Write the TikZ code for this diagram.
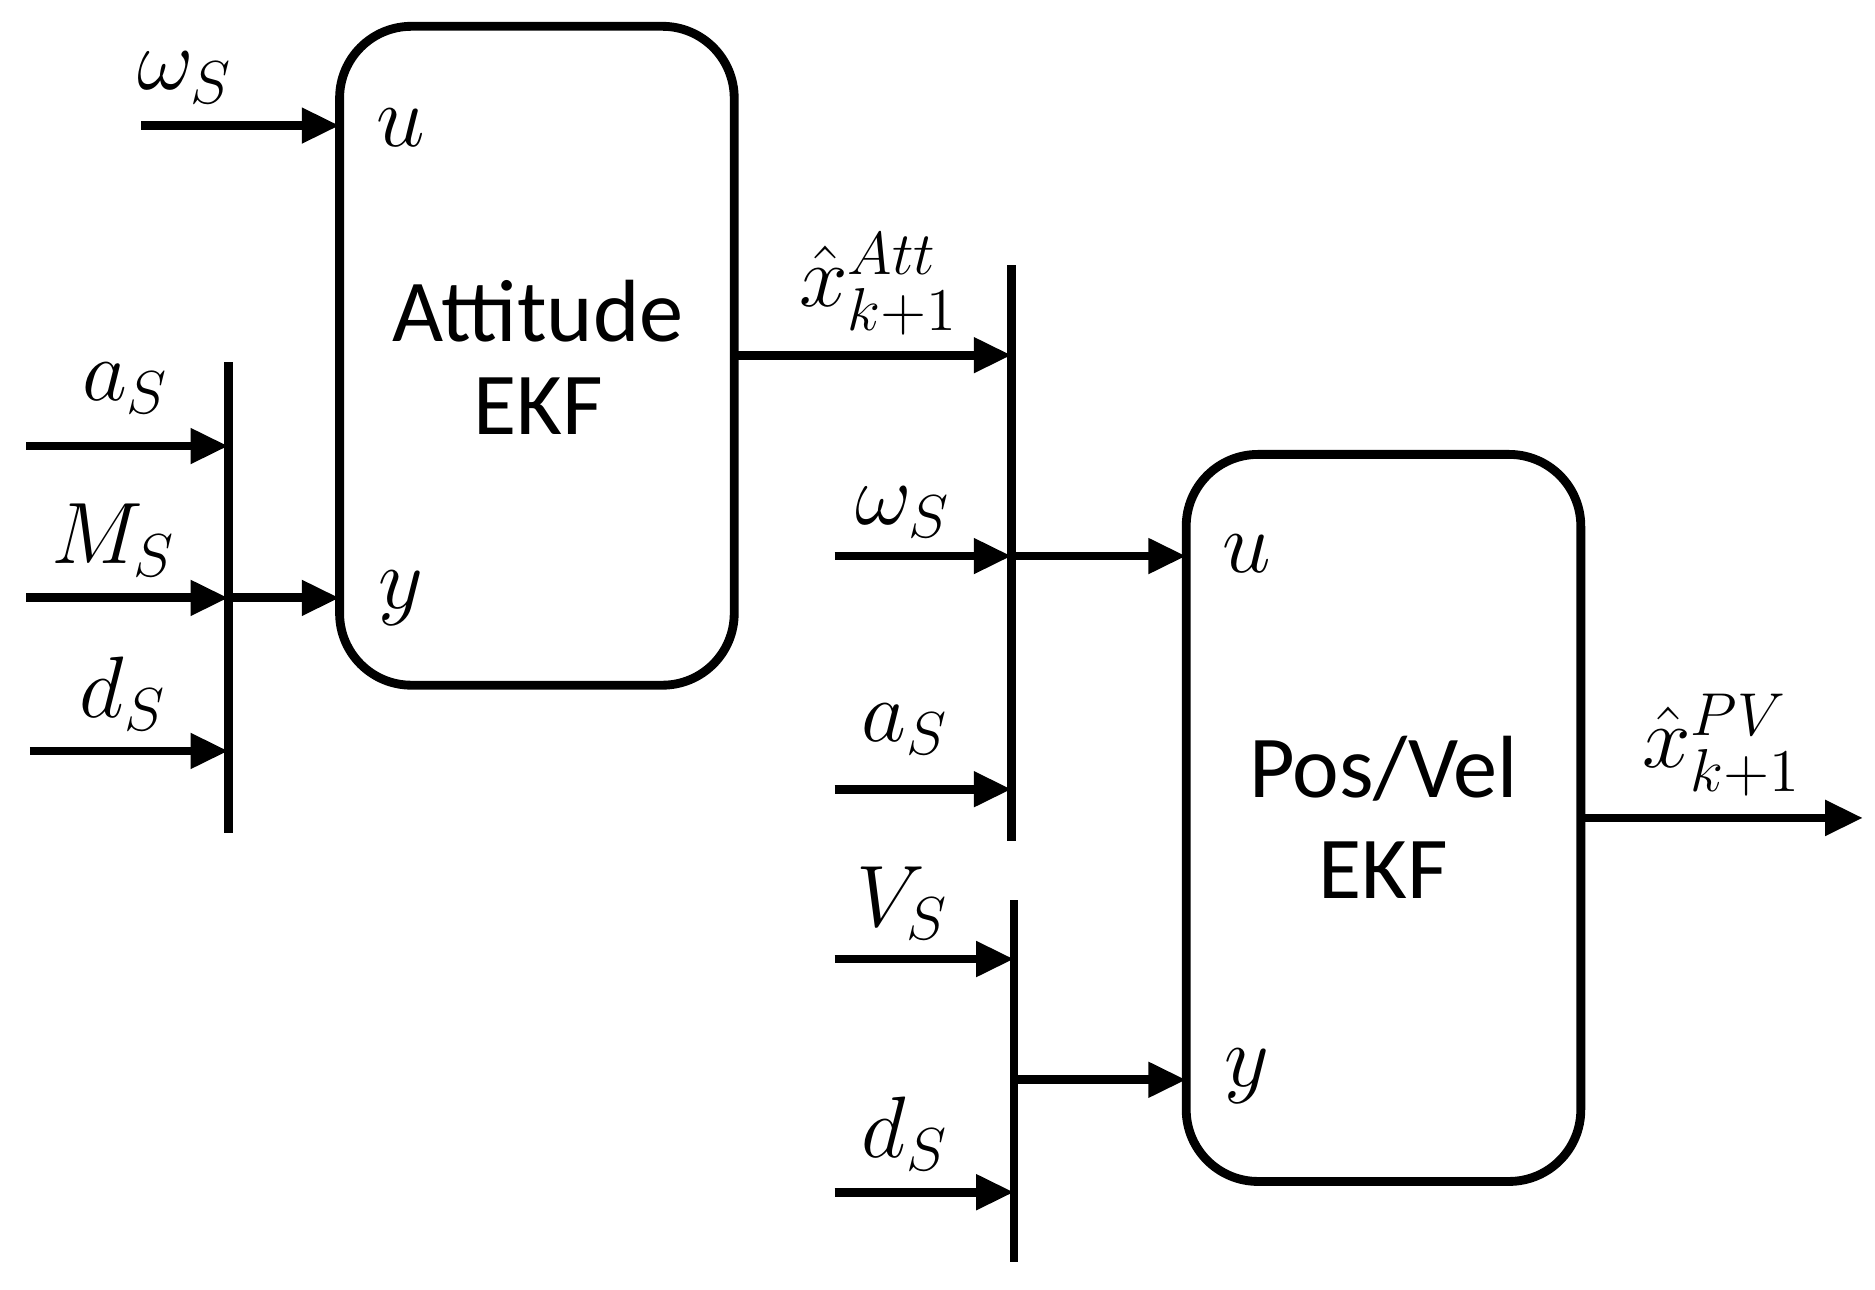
\documentclass[tikz,border=0pt]{standalone}
\usepackage{fontspec}
\setmainfont{Carlito}
\usepackage{amsmath}
\usetikzlibrary{arrows.meta}
\begin{document}
\begin{tikzpicture}[x=0.01cm,y=-0.01cm,
 ln/.style={line width=2.1pt},
 ar/.style={ln,-{Triangle[length=9pt,width=8pt]}},
 box/.style={ln,rounded corners=0.6cm},
 lab/.style={font=\fontsize{21}{25}\selectfont,inner sep=0pt},
 txt/.style={font=\fontsize{21}{25}\selectfont}]
\useasboundingbox (0,0) rectangle (1568,1078);
\draw[box] (284,22) rectangle (614,573);
\draw[box] (992,380) rectangle (1322,988);
\coordinate (b1t) at (191,303); \coordinate (b1b) at (191,697);
\coordinate (b2t) at (846,222); \coordinate (b2b) at (846,703);
\coordinate (b3t) at (848,753); \coordinate (b3b) at (848,1055);
\draw[ln] (b1t)--(b1b); \draw[ln] (b2t)--(b2b); \draw[ln] (b3t)--(b3b);
\node[txt] (att) at (450,260) {Attitude};
\node[txt] (ekf1) at (450,340) {EKF};
\node[txt] (pv) at (1157,643) {Pos/Vel};
\node[txt] (ekf2) at (1157,728) {EKF};
\node[lab] (u1) at (335,107) {$u$};
\node[lab] (y1) at (335,500) {$y$};
\node[lab] (u2) at (1043,463) {$u$};
\node[lab] (y2) at (1043,900) {$y$};
\coordinate (w1s) at (118,105); \coordinate (w1e) at (284,105);
\draw[ar] (w1s)--(w1e); \node[lab] (lw1) at (155,65) {$\omega_S$};
\coordinate (a1s) at (22,373); \coordinate (a1e) at (191,373);
\draw[ar] (a1s)--(a1e); \node[lab] (la1) at (105,325) {$a_S$};
\coordinate (m1s) at (22,500); \coordinate (m1e) at (191,500);
\draw[ar] (m1s)--(m1e); \node[lab] (lm1) at (95,452) {$M_S$};
\coordinate (d1s) at (25,628); \coordinate (d1e) at (191,628);
\draw[ar] (d1s)--(d1e); \node[lab] (ld1) at (103,580) {$d_S$};
\coordinate (o1s) at (191,500); \coordinate (o1e) at (284,500);
\draw[ar] (o1s)--(o1e);
\coordinate (x1s) at (614,297); \coordinate (x1e) at (846,297);
\draw[ar] (x1s)--(x1e); \node[lab] (lx1) at (735,238) {$\hat{x}^{Att}_{k+1}$};
\coordinate (w2s) at (698,465); \coordinate (w2e) at (846,465);
\draw[ar] (w2s)--(w2e); \node[lab] (lw2) at (755,428) {$\omega_S$};
\coordinate (o2s) at (846,465); \coordinate (o2e) at (992,465);
\draw[ar] (o2s)--(o2e);
\coordinate (a2s) at (698,660); \coordinate (a2e) at (846,660);
\draw[ar] (a2s)--(a2e); \node[lab] (la2) at (757,610) {$a_S$};
\coordinate (v2s) at (698,802); \coordinate (v2e) at (848,802);
\draw[ar] (v2s)--(v2e); \node[lab] (lv2) at (755,755) {$V_S$};
\coordinate (d2s) at (698,997); \coordinate (d2e) at (848,997);
\draw[ar] (d2s)--(d2e); \node[lab] (ld2) at (757,948) {$d_S$};
\coordinate (o3s) at (848,903); \coordinate (o3e) at (992,903);
\draw[ar] (o3s)--(o3e);
\coordinate (outs) at (1322,684); \coordinate (oute) at (1558,684);
\draw[ar] (outs)--(oute); \node[lab] (lout) at (1440,623) {$\hat{x}^{PV}_{k+1}$};
\end{tikzpicture}
\end{document}
